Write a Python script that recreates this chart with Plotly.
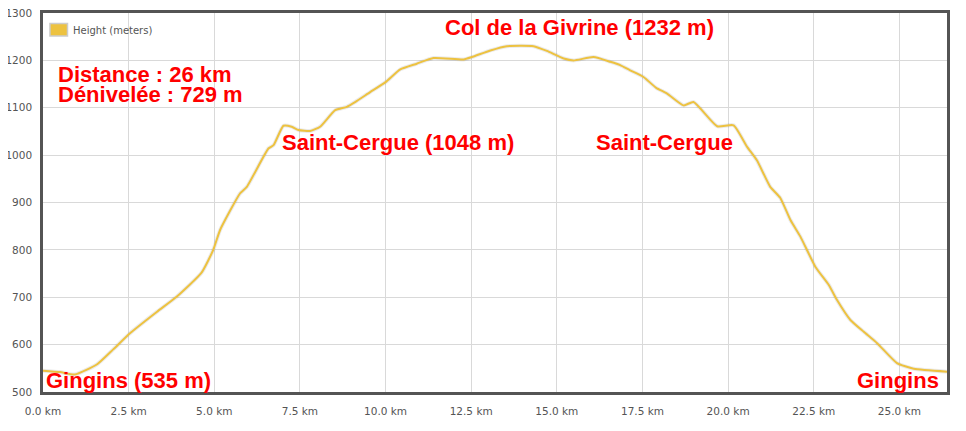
import plotly.graph_objects as go

# profil altimétrique (km, m)
distance_km = [0.0, 0.5, 0.93, 1.57, 2.05, 2.54, 3.32, 3.90, 4.63, 4.97, 5.17, 5.75, 5.95,
               6.58, 6.73, 7.02, 7.26, 7.46, 7.80, 8.09, 8.53, 8.87, 9.11, 9.55, 10.0,
               10.43, 10.91, 11.40, 12.28, 12.52, 13.06, 13.54, 14.32, 14.71, 15.20, 15.49,
               16.07, 16.56, 16.85, 17.14, 17.53, 17.90, 18.22, 18.70, 18.99, 19.68, 20.16,
               20.55, 20.84, 21.23, 21.52, 21.82, 22.11, 22.55, 22.94, 23.18, 23.57, 23.96,
               24.35, 24.93, 25.42, 26.39]
height_m = [545, 542, 537, 558, 590, 624, 669, 701, 752, 800, 842, 919, 933,
            1014, 1021, 1062, 1060, 1053, 1051, 1060, 1095, 1102, 1112, 1133, 1154,
            1181, 1193, 1205, 1202, 1207, 1221, 1230, 1230, 1220, 1204, 1200,
            1207, 1197, 1190, 1179, 1165, 1142, 1130, 1105, 1112, 1061, 1063,
            1018, 989, 933, 910, 863, 828, 764, 726, 694, 652, 627,
            603, 561, 549, 543]

y_ticks = [500, 600, 700, 800, 900, 1000, 1100, 1200, 1300]
x_ticks = [0, 2.5, 5, 7.5, 10, 12.5, 15, 17.5, 20, 22.5, 25]
x_tick_labels = ["0.0 km", "2.5 km", "5.0 km", "7.5 km", "10.0 km", "12.5 km",
                 "15.0 km", "17.5 km", "20.0 km", "22.5 km", "25.0 km"]

couleur = "#edc240"
gris = "#545454"

fig = go.Figure()

# ombre légère sous la courbe
fig.add_scatter(x=distance_km, y=height_m, mode="lines",
                line=dict(color="rgba(0,0,0,0.08)", width=4, shape="spline", smoothing=0.5),
                hoverinfo="skip", showlegend=False)
fig.add_scatter(x=distance_km, y=height_m, mode="lines",
                line=dict(color=couleur, width=2, shape="spline", smoothing=0.5),
                name="Height (meters)", showlegend=False)

# légende façon flot : petit carré + texte
fig.add_shape(type="rect", xref="paper", yref="paper",
              x0=0.0077, x1=0.0271, y0=0.9393, y1=0.9723,
              fillcolor=couleur, line=dict(color="#cccccc", width=1.5))
fig.add_annotation(x=0.0306, y=0.9538, xref="paper", yref="paper",
                   text="Height (meters)", showarrow=False, xanchor="left",
                   yanchor="middle", font=dict(size=10, color=gris))

txt = dict(family="Liberation Sans, Arial", size=22, color="red")
labels = [
    (0.40, 1171, "<b>Distance : 26 km</b>", "left"),
    (0.40, 1129, "<b>Dénivelée : 729 m</b>", "left"),
    (15.65, 1270, "<b>Col de la Givrine (1232 m)</b>", "center"),
    (6.96, 1027, "<b>Saint-Cergue (1048 m)</b>", "left"),
    (16.10, 1027, "<b>Saint-Cergue</b>", "left"),
    (0.05, 525, "<b>Gingins (535 m)</b>", "left"),
    (26.2, 525, "<b>Gingins</b>", "right"),
]
for x, y, t, anc in labels:
    fig.add_annotation(x=x, y=y, text=t, showarrow=False, xanchor=anc,
                       yanchor="middle", font=txt, borderpad=0)

# la page ajoute 8px de marge autour de la figure
fig.update_layout(
    width=958, height=423,
    margin=dict(l=35, r=19, t=5, b=39),
    plot_bgcolor="white", paper_bgcolor="white",
    font=dict(family="DejaVu Sans, Verdana", size=10.5, color=gris),
    showlegend=False,
    xaxis=dict(range=[0, 26.39], tickvals=x_ticks, ticktext=x_tick_labels,
               showgrid=True, gridcolor="#d9d9d9", gridwidth=1,
               showline=True, linecolor=gris, linewidth=2.5, mirror=True,
               zeroline=False, ticks="", ticklabelstandoff=8, automargin=False,
               ticklabeloverflow="allow"),
    yaxis=dict(range=[500, 1300], tickvals=y_ticks,
               showgrid=True, gridcolor="#d9d9d9", gridwidth=1,
               showline=True, linecolor=gris, linewidth=2.5, mirror=True,
               zeroline=False, ticks="", ticklabelstandoff=6, automargin=False,
               ticklabeloverflow="allow"),
)

fig.write_html("out.html")
